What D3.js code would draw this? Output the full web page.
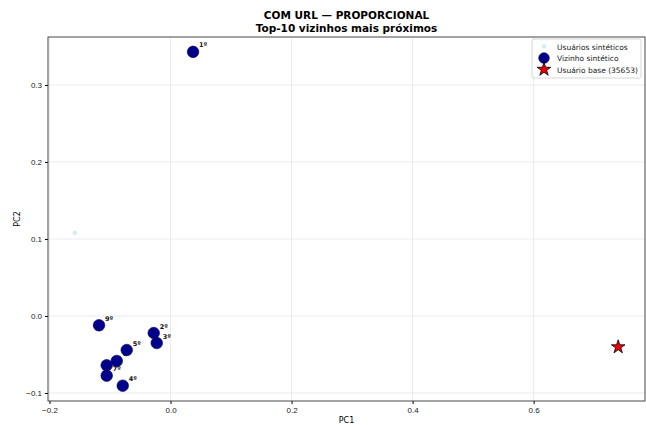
<!DOCTYPE html>
<html lang="pt">
<head>
<meta charset="UTF-8">
<title>COM URL — PROPORCIONAL</title>
<script src="https://d3js.org/d3.v7.min.js"></script>
<style>
  body { margin: 0; background: #fff; }
  svg { font-family: "DejaVu Sans", sans-serif; }
  .tick text { font-size: 8px; fill: #222; }
  .grid line { stroke: #e6e6e6; stroke-width: 0.8px; }
</style>
</head>
<body>
<script>
// vizinhos (PC1, PC2) em ordem de proximidade
const neighborLabels = ["1º", "2º", "3º", "4º", "5º", "6º", "7º", "8º", "9º"];
const neighborPC1 = [0.0372, -0.0278, -0.0228, -0.079, -0.0724, -0.0889, -0.1055, -0.1055, -0.1182];
const neighborPC2 = [0.343, -0.0221, -0.0351, -0.0905, -0.0442, -0.0584, -0.0775, -0.064, -0.0121];
const syntheticPC1 = [-0.158];
const syntheticPC2 = [0.108];
const basePC1 = 0.7397, basePC2 = -0.0403, baseId = 35653;
const xTicks = [-0.2, 0.0, 0.2, 0.4, 0.6];
const yTicks = [-0.1, 0.0, 0.1, 0.2, 0.3];

const W = 646, H = 425;
const margin = { top: 37, right: 1, bottom: 24, left: 48 };

const svg = d3.select("body").append("svg")
    .attr("width", W).attr("height", H);

const x = d3.scaleLinear().domain([-0.2025, 0.784]).range([margin.left, W - margin.right]);
const y = d3.scaleLinear().domain([-0.1104, 0.3623]).range([H - margin.bottom, margin.top]);

// grade
svg.append("g").attr("class", "grid")
    .selectAll("line.gx").data(xTicks).enter().append("line")
    .attr("x1", d => x(d)).attr("x2", d => x(d))
    .attr("y1", margin.top).attr("y2", H - margin.bottom);
svg.append("g").attr("class", "grid")
    .selectAll("line.gy").data(yTicks).enter().append("line")
    .attr("x1", margin.left).attr("x2", W - margin.right)
    .attr("y1", d => y(d)).attr("y2", d => y(d));

const fmt = d => d3.format(".1f")(d).replace("-", "\u2212");

svg.append("g")
    .attr("transform", `translate(0,${H - margin.bottom})`)
    .call(d3.axisBottom(x).tickValues(xTicks).tickFormat(fmt).tickSize(3).tickPadding(3))
    .call(g => g.select(".domain").remove());
svg.append("g")
    .attr("transform", `translate(${margin.left},0)`)
    .call(d3.axisLeft(y).tickValues(yTicks).tickFormat(fmt).tickSize(3).tickPadding(3))
    .call(g => g.select(".domain").remove());

svg.append("rect")
    .attr("x", margin.left).attr("y", margin.top)
    .attr("width", W - margin.right - margin.left)
    .attr("height", H - margin.bottom - margin.top)
    .attr("fill", "none").attr("stroke", "#333").attr("stroke-width", 0.9);

// usuários sintéticos
svg.selectAll("circle.syn").data(syntheticPC1).enter().append("circle")
    .attr("cx", d => x(d)).attr("cy", (d, i) => y(syntheticPC2[i]))
    .attr("r", 2.3).attr("fill", "#add8e6").attr("opacity", 0.5);

// rótulos primeiro, marcadores por cima
const nb = neighborPC1.map((v, i) => ({ x: v, y: neighborPC2[i], label: neighborLabels[i] }));
svg.selectAll("text.lbl").data(nb).enter().append("text")
    .attr("x", d => x(d.x) + 6).attr("y", d => y(d.y) - 4.5)
    .attr("font-size", 6.5).attr("font-weight", "bold").attr("fill", "#111")
    .text(d => d.label);
svg.selectAll("circle.nb").data(nb).enter().append("circle")
    .attr("cx", d => x(d.x)).attr("cy", d => y(d.y))
    .attr("r", 5.8).attr("fill", "#00008b").attr("stroke", "#000050").attr("stroke-width", 0.6);

// usuário base
const star = d3.symbol().type(d3.symbolStar).size(58);
svg.append("path")
    .attr("d", star())
    .attr("transform", `translate(${x(basePC1)},${y(basePC2)})`)
    .attr("fill", "#ee0000").attr("stroke", "#000").attr("stroke-width", 0.8);

// títulos
svg.append("text").attr("x", (margin.left + W - margin.right) / 2).attr("y", 19)
    .attr("text-anchor", "middle").attr("font-size", 10.5).attr("font-weight", "bold")
    .text("COM URL — PROPORCIONAL");
svg.append("text").attr("x", (margin.left + W - margin.right) / 2).attr("y", 32)
    .attr("text-anchor", "middle").attr("font-size", 10.5).attr("font-weight", "bold")
    .text("Top-10 vizinhos mais próximos");
svg.append("text").attr("x", (margin.left + W - margin.right) / 2).attr("y", 423)
    .attr("text-anchor", "middle").attr("font-size", 8).text("PC1");
svg.append("text").attr("transform", `translate(20,${(margin.top + H - margin.bottom) / 2}) rotate(-90)`)
    .attr("text-anchor", "middle").attr("font-size", 8).text("PC2");

// legenda
const lg = svg.append("g").attr("transform", "translate(532,39)");
lg.append("rect").attr("width", 109).attr("height", 39).attr("rx", 2)
    .attr("fill", "#fff").attr("fill-opacity", 0.8).attr("stroke", "#ccc").attr("stroke-width", 0.8);
lg.append("circle").attr("cx", 12).attr("cy", 7.5).attr("r", 2.3).attr("fill", "#add8e6").attr("opacity", 0.5);
lg.append("circle").attr("cx", 12).attr("cy", 19).attr("r", 5.3).attr("fill", "#00008b").attr("stroke", "#000050").attr("stroke-width", 0.6);
lg.append("path").attr("d", star()).attr("transform", "translate(12,30.5)")
    .attr("fill", "#ee0000").attr("stroke", "#000").attr("stroke-width", 0.8);
const legendTexts = ["Usuários sintéticos", "Vizinho sintético", `Usuário base (${baseId})`];
lg.selectAll("text.lt").data(legendTexts).enter().append("text")
    .attr("x", 25).attr("y", (d, i) => 10.5 + i * 11.5)
    .attr("font-size", 7.5).attr("fill", "#222").text(d => d);
</script>
</body>
</html>
